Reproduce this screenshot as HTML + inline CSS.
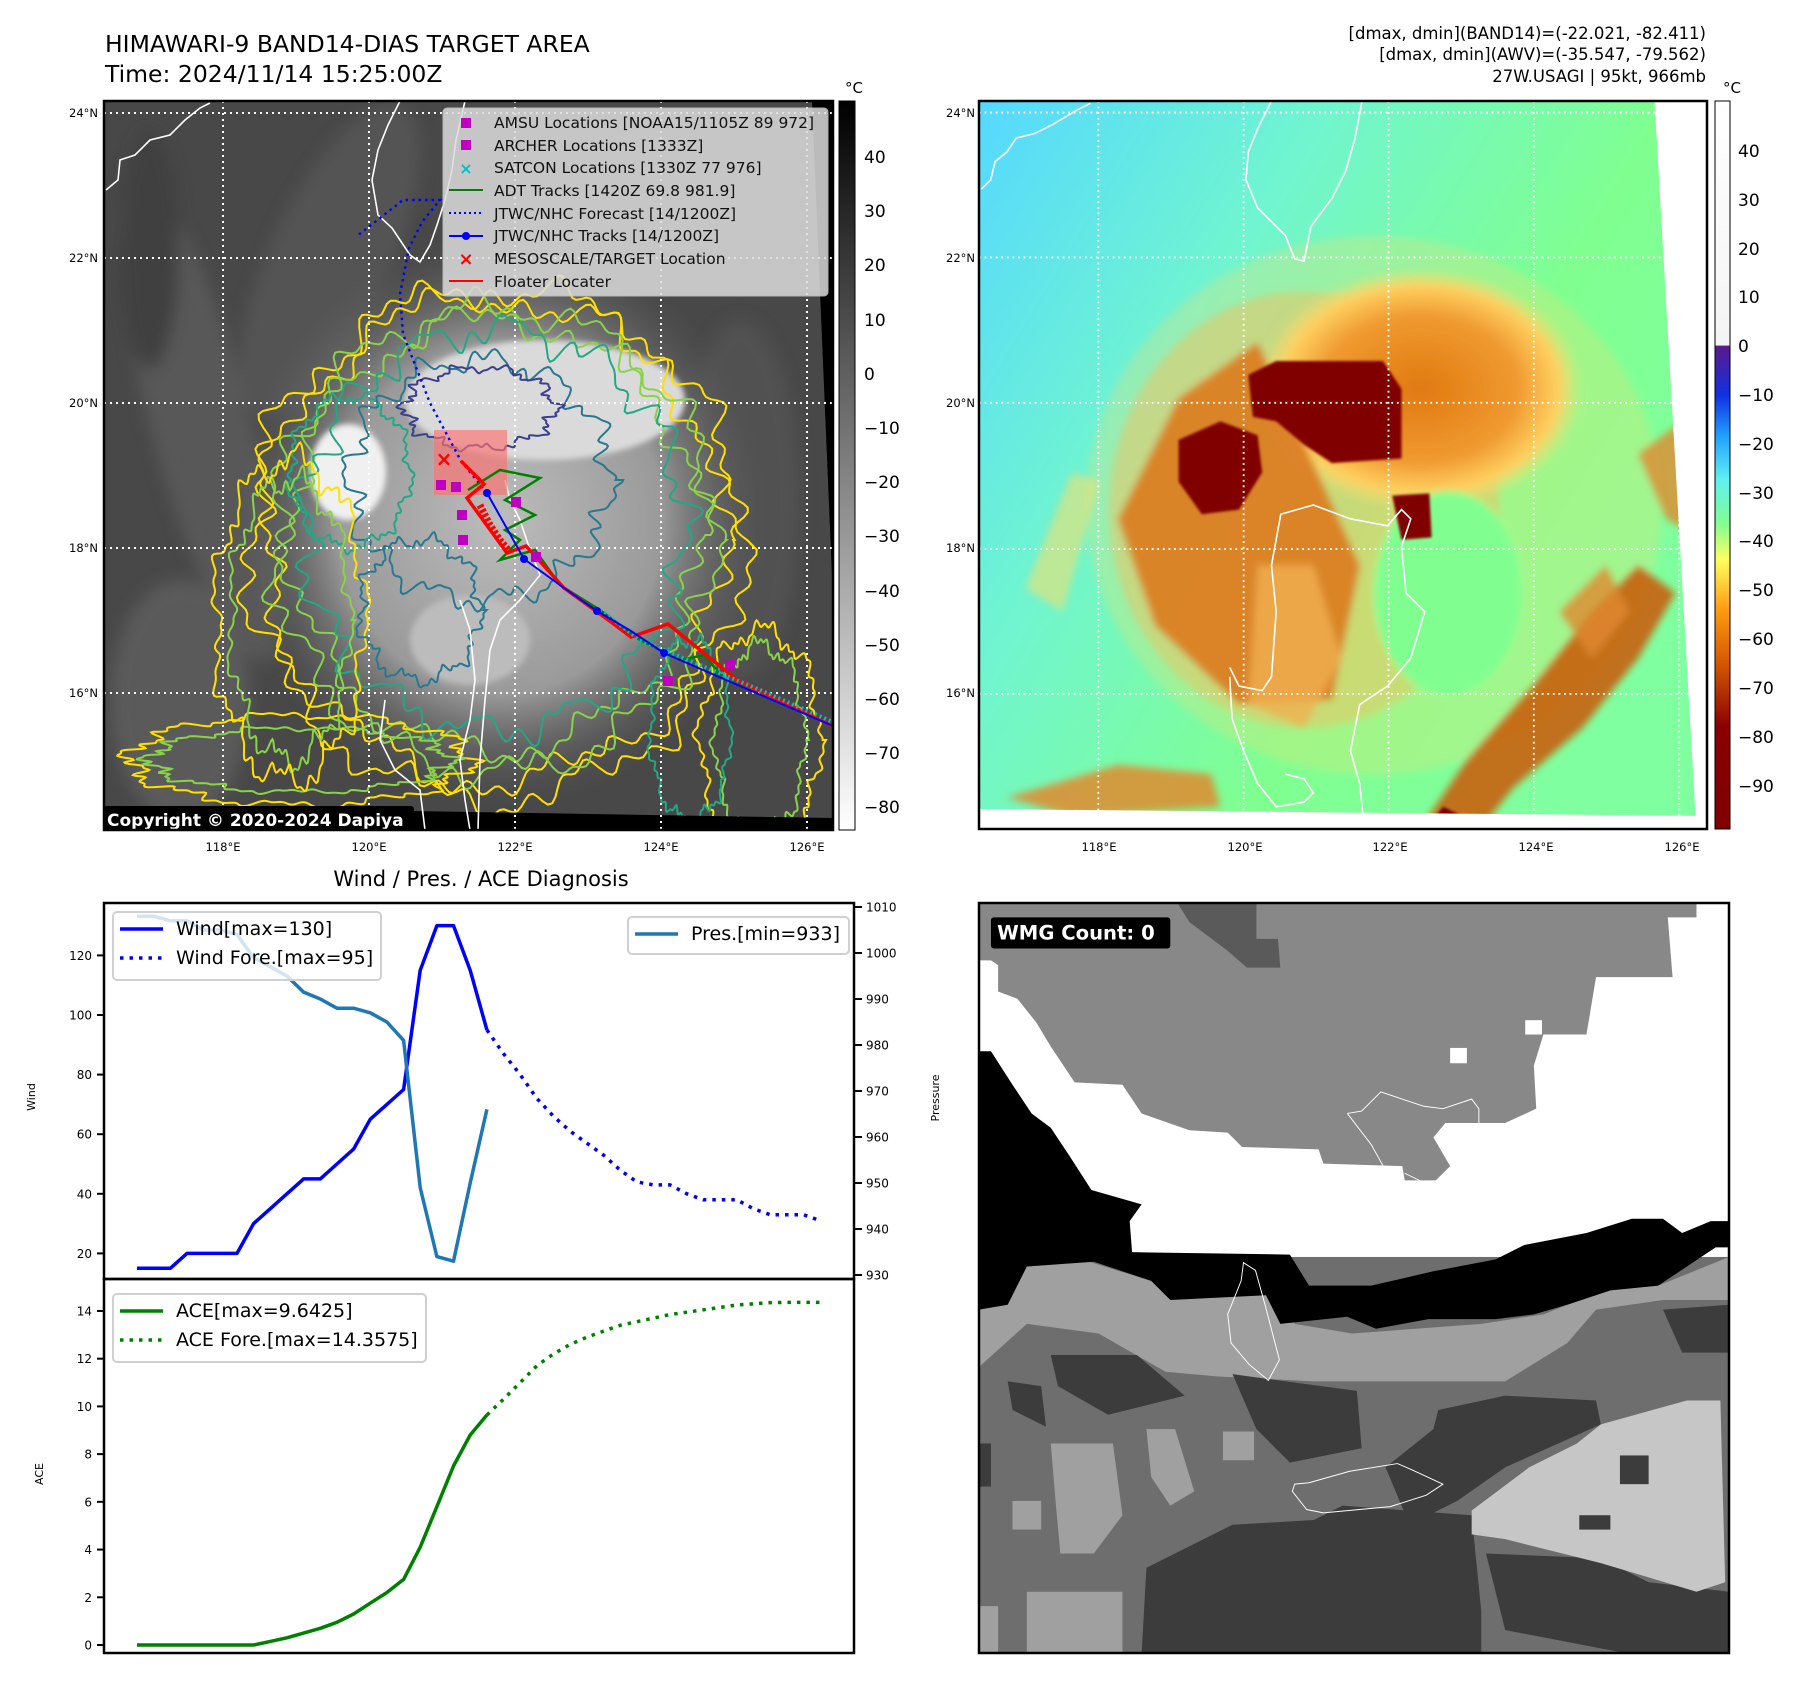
<!DOCTYPE html>
<html><head><meta charset="utf-8"><style>
html,body{margin:0;padding:0;background:#fff}
svg{display:block}
text{font-family:"DejaVu Sans","Liberation Sans",sans-serif}
</style></head><body>
<svg id="root" width="1797" height="1690" viewBox="0 0 1797 1690" xmlns="http://www.w3.org/2000/svg">
<defs>
 <linearGradient id="cb1" x1="0" y1="0" x2="0" y2="1"><stop offset="0" stop-color="#000"/><stop offset="1" stop-color="#fff"/></linearGradient>
 <linearGradient id="cb2" x1="0" y1="0" x2="0" y2="1">
  <stop offset="0" stop-color="#ffffff"/><stop offset="0.335" stop-color="#f4f4f4"/>
  <stop offset="0.337" stop-color="#5a1a8c"/><stop offset="0.404" stop-color="#1030e0"/>
  <stop offset="0.46" stop-color="#20a0ff"/><stop offset="0.52" stop-color="#60f0f0"/>
  <stop offset="0.58" stop-color="#80ff90"/><stop offset="0.63" stop-color="#ffff60"/>
  <stop offset="0.70" stop-color="#ff9a10"/><stop offset="0.78" stop-color="#d05000"/>
  <stop offset="0.86" stop-color="#8b0000"/><stop offset="1" stop-color="#800000"/>
 </linearGradient>
 <radialGradient id="cloud1" cx="0.5" cy="0.5" r="0.5"><stop offset="0" stop-color="#bcbcbc"/><stop offset="0.6" stop-color="#9a9a9a"/><stop offset="1" stop-color="#555" stop-opacity="0"/></radialGradient>
 <linearGradient id="bg2" x1="0" y1="0" x2="1" y2="0.6"><stop offset="0" stop-color="#55d8ff"/><stop offset="0.35" stop-color="#70f5d0"/><stop offset="0.7" stop-color="#80ff90"/><stop offset="1" stop-color="#80ffa0"/></linearGradient>
 <radialGradient id="storm" cx="0.5" cy="0.5" r="0.5"><stop offset="0" stop-color="#e07a10"/><stop offset="0.6" stop-color="#f09a30"/><stop offset="0.85" stop-color="#ffd060"/><stop offset="1" stop-color="#ffe070" stop-opacity="0"/></radialGradient>
 <filter id="bl" x="-20%" y="-20%" width="140%" height="140%"><feGaussianBlur stdDeviation="8"/></filter>
 <filter id="bl2" x="-20%" y="-20%" width="140%" height="140%"><feGaussianBlur stdDeviation="3"/></filter>
 <clipPath id="c1"><rect x="104" y="101" width="729" height="729"/></clipPath>
</defs>

<text x="105" y="52" font-size="23.5">HIMAWARI-9 BAND14-DIAS TARGET AREA</text>
<text x="105" y="82" font-size="23.5">Time: 2024/11/14 15:25:00Z</text>
<g font-size="16.5" text-anchor="end">
 <text x="1706" y="39">[dmax, dmin](BAND14)=(-22.021, -82.411)</text>
 <text x="1706" y="60">[dmax, dmin](AWV)=(-35.547, -79.562)</text>
 <text x="1706" y="82">27W.USAGI | 95kt, 966mb</text>
</g>

<!-- MAP 1 -->
<g clip-path="url(#c1)">
 <rect x="104" y="101" width="729" height="729" fill="#484848"/>
 <g opacity="0.55" filter="url(#bl)">
  <ellipse cx="200" cy="420" rx="50" ry="250" fill="#666" transform="rotate(-15 200 420)"/>
  <ellipse cx="330" cy="260" rx="60" ry="170" fill="#5e5e5e" transform="rotate(25 330 260)"/>
  <ellipse cx="180" cy="700" rx="70" ry="120" fill="#6a6a6a"/>
  <ellipse cx="740" cy="500" rx="60" ry="180" fill="#5a5a5a"/>
  <ellipse cx="150" cy="250" rx="30" ry="120" fill="#3a3a3a"/>
 </g>
 <ellipse cx="500" cy="520" rx="270" ry="290" fill="url(#cloud1)"/>
 <g filter="url(#bl2)">
  <ellipse cx="545" cy="400" rx="140" ry="60" fill="#dadada"/>
  <ellipse cx="348" cy="472" rx="38" ry="48" fill="#f0f0f0"/>
  <ellipse cx="470" cy="640" rx="60" ry="45" fill="#bcbcbc"/>
 </g>
 <g id="contours1" fill="none" stroke-width="2"></g>
 <polygon points="812,101 833,101 833,600" fill="#000"/>
 <polygon points="104,806 833,818 833,830 104,830" fill="#000"/>
 <g stroke="#fff" stroke-width="2" stroke-dasharray="2 4">
  <line x1="223" y1="101" x2="223" y2="830"/><line x1="369" y1="101" x2="369" y2="830"/><line x1="515" y1="101" x2="515" y2="830"/><line x1="661" y1="101" x2="661" y2="830"/><line x1="807" y1="101" x2="807" y2="830"/>
  <line x1="104" y1="113" x2="833" y2="113"/><line x1="104" y1="258" x2="833" y2="258"/><line x1="104" y1="403" x2="833" y2="403"/><line x1="104" y1="548" x2="833" y2="548"/><line x1="104" y1="693" x2="833" y2="693"/>
 </g>
 <g fill="none" stroke="#fff" stroke-width="1.6">
  <path d="M106,190 L118,180 L120,160 L135,155 L150,140 L170,135 L185,120 L200,108 L210,103"/>
  <path d="M400,101 L388,125 L378,150 L372,180 L378,215 L392,228 L410,255 L420,262 L430,245 L437,225 L445,200 L452,170 L456,140 L465,101"/>
  <path d="M505,480 L510,500 L520,520 L530,550 L540,575 L520,600 L500,620 L490,650 L485,700 L480,760 L478,830"/>
  <path d="M460,600 L470,630 L475,680 L470,720 L460,760 L465,800 L470,830"/>
  <path d="M385,700 L380,740 L395,770 L420,790 L425,830"/>
 </g>
 <rect x="434" y="430" width="73" height="65" fill="#ff7070" opacity="0.65"/>
 <polyline points="487,493 461,461 430,403 403,334 400,294 409,248 422,222 440,200 403,200 357,236" fill="none" stroke="#0000ff" stroke-width="2.4" stroke-dasharray="2.5 4"/>
 <polyline points="468,490 500,470 540,478 505,500 535,515 505,530 520,540 500,560 535,550 560,585 600,610 640,640 680,660 705,655 720,675" fill="none" stroke="#008000" stroke-width="2.5"/>
 <polyline points="461,461 484,484 467,498 507,553 526,546 564,588 611,622 631,637 668,624 737,680 833,726" fill="none" stroke="#ff0000" stroke-width="3.5"/>
 <polyline points="480,505 490,525 500,540 510,552" fill="none" stroke="#ff0000" stroke-width="7" stroke-dasharray="3 2" />
 <polyline points="600,610 640,640 700,665 760,690 833,722" fill="none" stroke="#00c0c0" stroke-width="4" stroke-dasharray="2 3"/>
 <polyline points="487,493 524,559 564,588 597,611 631,631 664,653 726,680 833,726" fill="none" stroke="#0000ff" stroke-width="2"/>
 <g fill="#0000ff"><circle cx="487" cy="493" r="4"/><circle cx="524" cy="559" r="4"/><circle cx="597" cy="611" r="4"/><circle cx="664" cy="653" r="4"/></g>
 <g fill="#c000c0">
  <rect x="436" y="480" width="10" height="10"/><rect x="451" y="482" width="10" height="10"/><rect x="457" y="510" width="10" height="10"/><rect x="458" y="535" width="10" height="10"/><rect x="511" y="497" width="10" height="10"/><rect x="531" y="552" width="10" height="10"/><rect x="663" y="676" width="10" height="10"/><rect x="725" y="660" width="10" height="10"/>
 </g>
 <text x="444" y="466" font-size="20" fill="#ff0000" text-anchor="middle" font-weight="bold">×</text>
 <g>
  <rect x="443" y="108" width="385" height="188" rx="4" fill="#dcdcdc" opacity="0.85" stroke="#ccc"/>
  <rect x="461" y="118" width="10" height="10" fill="#c000c0"/>
  <rect x="461" y="140" width="10" height="10" fill="#c000c0"/>
  <text x="466" y="174" font-size="16" fill="#00c0c0" text-anchor="middle" font-weight="bold">×</text>
  <line x1="449" y1="190" x2="483" y2="190" stroke="#008000" stroke-width="2"/>
  <line x1="449" y1="213" x2="483" y2="213" stroke="#0000ff" stroke-width="2" stroke-dasharray="2 3"/>
  <line x1="449" y1="236" x2="483" y2="236" stroke="#0000ff" stroke-width="2"/><circle cx="466" cy="236" r="4" fill="#0000ff"/>
  <text x="466" y="265" font-size="18" fill="#ff0000" text-anchor="middle" font-weight="bold">×</text>
  <line x1="449" y1="281" x2="483" y2="281" stroke="#ff0000" stroke-width="2"/>
  <g font-size="15.5" fill="#111">
   <text x="494" y="128">AMSU Locations [NOAA15/1105Z 89 972]</text>
   <text x="494" y="151">ARCHER Locations [1333Z]</text>
   <text x="494" y="173">SATCON Locations [1330Z 77 976]</text>
   <text x="494" y="196">ADT Tracks [1420Z 69.8 981.9]</text>
   <text x="494" y="219">JTWC/NHC Forecast [14/1200Z]</text>
   <text x="494" y="241">JTWC/NHC Tracks [14/1200Z]</text>
   <text x="494" y="264">MESOSCALE/TARGET Location</text>
   <text x="494" y="287">Floater Locater</text>
  </g>
 </g>
 <rect x="102" y="806" width="312" height="26" rx="3" fill="#000"/>
 <text x="107" y="826" font-size="17" font-weight="bold" fill="#fff">Copyright © 2020-2024 Dapiya</text>
</g>
<rect x="104" y="101" width="729" height="729" fill="none" stroke="#000" stroke-width="2.5"/>
<g font-size="11.5" text-anchor="end">
 <text x="98" y="117">24°N</text><text x="98" y="262">22°N</text><text x="98" y="407">20°N</text><text x="98" y="552">18°N</text><text x="98" y="697">16°N</text>
</g>
<g font-size="11.5" text-anchor="middle">
 <text x="223" y="851">118°E</text><text x="369" y="851">120°E</text><text x="515" y="851">122°E</text><text x="661" y="851">124°E</text><text x="807" y="851">126°E</text>
</g>
<rect x="839" y="101" width="16" height="729" fill="url(#cb1)" stroke="#000" stroke-width="1"/>
<text x="845" y="93" font-size="15">°C</text>
<g font-size="17">
 <text x="864" y="163">40</text><text x="864" y="217">30</text><text x="864" y="271">20</text><text x="864" y="326">10</text><text x="864" y="380">0</text>
 <text x="864" y="434">−10</text><text x="864" y="488">−20</text><text x="864" y="542">−30</text><text x="864" y="597">−40</text><text x="864" y="651">−50</text><text x="864" y="705">−60</text><text x="864" y="759">−70</text><text x="864" y="813">−80</text>
</g>

<!-- MAP 2 -->
<svg x="979" y="101" width="728" height="728" viewBox="0 0 1568 1568" preserveAspectRatio="none">
 <rect width="1568" height="1568" fill="url(#bg2)"/>
 <g filter="url(#bl)">
  <ellipse cx="850" cy="870" rx="620" ry="580" fill="#f0e070" opacity="0.3"/>
  <ellipse cx="700" cy="880" rx="420" ry="470" fill="#f0c060" opacity="0.5"/>
  <ellipse cx="950" cy="620" rx="350" ry="260" fill="url(#storm)"/>
  <polygon points="300,900 430,640 600,520 720,780 820,1000 760,1290 560,1300 380,1130" fill="#dd7a20" opacity="0.9"/>
  <polygon points="600,1000 720,1000 780,1200 700,1350 580,1300" fill="#f0b050" opacity="0.8"/>
  <ellipse cx="1010" cy="1060" rx="160" ry="220" fill="#80ff90"/>
  <polygon points="950,1568 1050,1420 1200,1250 1320,1100 1420,1000 1500,1060 1420,1200 1300,1350 1150,1480 1080,1568" fill="#c86010" opacity="0.9"/>
  <polygon points="1250,1100 1350,1000 1400,1100 1320,1200" fill="#e08a30" opacity="0.8"/>
  <polygon points="1420,760 1500,700 1568,720 1568,950 1480,900" fill="#e08a30" opacity="0.8"/>
  <polygon points="60,1500 300,1430 500,1450 520,1520 200,1540" fill="#e08a30" opacity="0.85"/>
  <polygon points="100,1050 200,800 260,820 180,1100" fill="#f0e070" opacity="0.6"/>
 </g>
 <g fill="#800000" filter="url(#bl2)">
  <polygon points="580,590 640,560 870,560 910,620 910,770 760,780 700,740 640,690 590,680"/>
  <polygon points="430,730 520,690 600,720 610,800 560,880 480,890 430,820"/>
  <polygon points="890,850 970,845 975,940 910,945"/>
  <polygon points="960,1568 1000,1520 1040,1540 1020,1568" />
 </g>
 <polygon points="1455,0 1568,0 1568,1568 1545,1568" fill="#fff"/>
 <polygon points="0,1525 1568,1540 1568,1568 0,1568" fill="#fff"/>
 <g stroke="#fff" stroke-width="4" stroke-dasharray="4 8">
  <line x1="257" y1="0" x2="257" y2="1568"/><line x1="570" y1="0" x2="570" y2="1568"/><line x1="882" y1="0" x2="882" y2="1568"/><line x1="1195" y1="0" x2="1195" y2="1568"/><line x1="1508" y1="0" x2="1508" y2="1568"/>
  <line x1="0" y1="25" x2="1568" y2="25"/><line x1="0" y1="337" x2="1568" y2="337"/><line x1="0" y1="650" x2="1568" y2="650"/><line x1="0" y1="965" x2="1568" y2="965"/><line x1="0" y1="1277" x2="1568" y2="1277"/>
 </g>
 <g fill="none" stroke="#fff" stroke-width="3.5">
  <path d="M5,190 L25,170 L35,130 L60,110 L80,80 L120,70 L160,50 L210,20 L240,5"/>
  <path d="M630,0 L600,60 L580,110 L575,170 L600,230 L630,260 L660,290 L680,340 L700,345 L715,270 L760,210 L790,150 L810,80 L825,0"/>
  <path d="M540,1220 L560,1260 L610,1270 L630,1240 L640,1100 L630,1000 L650,890 L720,870 L800,900 L880,915 L910,880 L930,900 L910,960 L920,1060 L960,1100 L930,1200 L880,1260 L820,1300 L800,1400 L820,1470 L830,1568"/>
  <path d="M540,1240 L545,1330 L570,1400 L600,1470 L640,1520 L700,1510 L720,1490 L700,1460 L660,1450"/>
 </g>
</svg>
<rect x="979" y="101" width="728" height="728" fill="none" stroke="#000" stroke-width="2.5"/>
<g font-size="11.5" text-anchor="end">
 <text x="975" y="117">24°N</text><text x="975" y="262">22°N</text><text x="975" y="407">20°N</text><text x="975" y="552">18°N</text><text x="975" y="697">16°N</text>
</g>
<g font-size="11.5" text-anchor="middle">
 <text x="1099" y="851">118°E</text><text x="1245" y="851">120°E</text><text x="1390" y="851">122°E</text><text x="1536" y="851">124°E</text><text x="1682" y="851">126°E</text>
</g>
<rect x="1715" y="101" width="15" height="728" fill="url(#cb2)" stroke="#000" stroke-width="1"/>
<text x="1723" y="93" font-size="15">°C</text>
<g font-size="17">
 <text x="1738" y="157">40</text><text x="1738" y="206">30</text><text x="1738" y="255">20</text><text x="1738" y="303">10</text><text x="1738" y="352">0</text>
 <text x="1738" y="401">−10</text><text x="1738" y="450">−20</text><text x="1738" y="499">−30</text><text x="1738" y="547">−40</text><text x="1738" y="596">−50</text><text x="1738" y="645">−60</text><text x="1738" y="694">−70</text><text x="1738" y="743">−80</text><text x="1738" y="792">−90</text>
</g>

<!-- WMG panel -->
<svg x="979" y="903" width="750" height="750" viewBox="0 0 1568 1568" preserveAspectRatio="none">
 <rect width="1568" height="1568" fill="#fff"/>
 <rect x="0" y="740" width="1568" height="828" fill="#6e6e6e"/>
 <polygon points="0,0 1500,0 1500,30 1440,30 1450,155 1290,155 1270,275 1180,275 1160,340 1165,430 1100,460 975,460 950,490 985,550 955,580 890,580 885,550 720,545 710,515 550,510 520,480 440,475 340,440 300,380 200,375 150,300 120,250 80,200 40,185 40,130 25,120 0,120" fill="#888"/>
 <polygon points="415,0 580,0 580,75 625,75 630,135 560,135 520,100 440,40" fill="#5a5a5a"/>
 <rect x="985" y="303" width="35" height="32" fill="#fff"/><rect x="1142" y="245" width="35" height="30" fill="#fff"/>
 <polygon points="0,850 100,760 230,750 360,790 620,800 660,880 780,900 1050,880 1180,860 1230,840 1320,810 1420,800 1568,740 1568,830 1430,830 1290,850 1230,920 1100,1000 950,1000 700,1000 500,990 390,980 250,900 100,880 0,970" fill="#a0a0a0"/>
 <polygon points="0,310 25,310 70,380 110,440 150,470 190,530 235,600 340,630 315,665 320,730 650,735 690,800 820,800 950,770 1080,745 1140,715 1270,690 1365,660 1430,660 1470,690 1530,665 1568,665 1568,720 1540,720 1420,800 1320,810 1230,840 1160,860 1080,870 940,870 830,890 770,865 630,880 600,820 400,830 360,790 240,750 100,760 60,840 0,850" fill="#000"/>
 <g fill="#3c3c3c">
  <polygon points="530,985 790,1020 800,1140 650,1170 580,1100"/>
  <polygon points="150,945 330,945 430,1030 270,1070 165,1010"/>
  <polygon points="60,1000 130,1010 140,1095 70,1060"/>
  <polygon points="960,1060 1100,1030 1290,1040 1300,1090 1100,1180 1000,1250 900,1300 850,1180 950,1100"/>
  <polygon points="350,1390 530,1300 700,1290 760,1260 1030,1280 1050,1480 1050,1568 340,1568"/>
  <polygon points="1060,1360 1300,1370 1400,1420 1568,1440 1568,1568 1350,1568 1100,1520"/>
  <polygon points="1430,850 1568,840 1568,940 1470,940"/>
  <rect x="0" y="1130" width="25" height="90"/>
 </g>
 <polygon points="1030,1270 1150,1180 1250,1130 1300,1090 1480,1040 1550,1040 1560,1420 1500,1440 1300,1380 1100,1330 1030,1320" fill="#c6c6c6"/>
 <g fill="#3c3c3c"><rect x="1340" y="1155" width="60" height="60"/><rect x="1255" y="1280" width="65" height="30"/></g>
 <g fill="#a0a0a0">
  <polygon points="150,1130 280,1130 300,1280 240,1360 170,1360 160,1250"/>
  <polygon points="350,1100 410,1100 450,1230 400,1260 360,1200"/>
  <rect x="510" y="1105" width="65" height="60"/>
  <rect x="100" y="1440" width="200" height="128"/>
  <rect x="0" y="1470" width="40" height="98"/>
  <rect x="70" y="1250" width="60" height="60"/>
 </g>
 <g fill="none" stroke="#fff" stroke-width="2">
  <path d="M770,440 L800,435 L840,395 L930,425 L970,430 L1030,410 L1045,430 L1045,460 M770,440 L820,505 L845,550 M890,565 L925,582"/>
  <path d="M553,752 L578,768 L598,840 L628,955 L605,998 L565,965 L527,920 L520,860 L548,790 Z"/>
  <path d="M660,1215 L690,1212 L775,1188 L875,1172 L905,1185 L970,1215 L935,1238 L860,1262 L720,1275 L685,1268 L655,1230 Z"/>
 </g>
 <rect x="25" y="30" width="375" height="65" rx="6" fill="#000"/>
 <text x="38" y="76" font-size="41" font-weight="bold" fill="#fff">WMG Count: 0</text>
</svg>
<rect x="979" y="903" width="750" height="750" fill="none" stroke="#000" stroke-width="2.5"/>
<text x="939" y="1098" font-size="11" text-anchor="middle" transform="rotate(-90 939 1098)">Pressure</text>

<text x="481" y="886" font-size="21" text-anchor="middle">Wind / Pres. / ACE Diagnosis</text>
<g id="chart"></g>
</svg>

<script>
const windObs = [15,15,15,20,20,20,20,30,35,40,45,45,50,55,65,70,75,115,130,130,115,95];
const windFore = [95,87,80,72,66,61,57,53,48,44,43,43,40,38,38,38,35,33,33,33,31];
const presObs = [1008,1008,1007,1007,1005,1005,1004,999,997,995,991.5,990,988,988,987,985,981,949,934,933,950,966];
const aceObs = [0,0,0,0,0,0,0,0,0.15,0.3,0.5,0.7,0.95,1.3,1.75,2.2,2.75,4.1,5.8,7.5,8.8,9.64];
const aceFore = [9.64,10.3,11.0,11.7,12.2,12.6,12.9,13.15,13.4,13.55,13.7,13.85,13.95,14.05,14.15,14.25,14.3,14.35,14.36,14.36,14.36];
const windTicks = [20,40,60,80,100,120];
const presTicks = [930,940,950,960,970,980,990,1000,1010];
const aceTicks = [0,2,4,6,8,10,12,14];
const foreStart = windObs.length - 1;

const NS = "http://www.w3.org/2000/svg";
const chart = document.getElementById('chart');
const L = 104, R = 854, T1 = 903, B1 = 1279, T2 = 1279, B2 = 1653;
const xOf = i => 137 + 16.66 * i;
const yWind = w => 1313 - 2.98 * w;
const yPres = p => 1275 - 4.6 * (p - 930);
const yAce = a => 1645 - 23.86 * a;

function mk(tag, attrs, parent) {
  const e = document.createElementNS(NS, tag);
  for (const k in attrs) e.setAttribute(k, attrs[k]);
  (parent || chart).appendChild(e);
  return e;
}
function poly(vals, off, yf, color, dash, name) {
  const pts = vals.map((v, i) => xOf(i + off).toFixed(1) + ',' + yf(v).toFixed(1)).join(' ');
  const e = mk('polyline', {points: pts, fill: 'none', stroke: color, 'stroke-width': 3.5, 'stroke-linejoin': 'round'});
  if (dash) e.setAttribute('stroke-dasharray', '3.5 6');
  
  
}
const f1 = mk('rect', {x: L, y: T1, width: R - L, height: B1 - T1, fill: 'none', stroke: '#000', 'stroke-width': 2.5});


const f2 = mk('rect', {x: L, y: T2, width: R - L, height: B2 - T2, fill: 'none', stroke: '#000', 'stroke-width': 2.5});



windTicks.forEach(t => {
  const y = yWind(t);
  mk('line', {x1: L - 7, x2: L, y1: y, y2: y, stroke: '#000', 'stroke-width': 2});
  const tx = mk('text', {x: L - 12, y: y + 4.5, 'font-size': 12, 'text-anchor': 'end'});
  tx.textContent = t;
  
  
});
presTicks.forEach(t => {
  const y = yPres(t);
  mk('line', {x1: R, x2: R + 8, y1: y, y2: y, stroke: '#000', 'stroke-width': 2});
  const tx = mk('text', {x: R + 12, y: y + 4.5, 'font-size': 12});
  tx.textContent = t;
  
  
});
aceTicks.forEach(t => {
  const y = yAce(t);
  mk('line', {x1: L - 7, x2: L, y1: y, y2: y, stroke: '#000', 'stroke-width': 2});
  const tx = mk('text', {x: L - 12, y: y + 4.5, 'font-size': 12, 'text-anchor': 'end'});
  tx.textContent = t;
  
  
});
const wl = mk('text', {x: 35, y: 1097, 'font-size': 11, 'text-anchor': 'middle', transform: 'rotate(-90 35 1097)'});
wl.textContent = 'Wind';


const al = mk('text', {x: 43, y: 1474, 'font-size': 11, 'text-anchor': 'middle', transform: 'rotate(-90 43 1474)'});
al.textContent = 'ACE';



poly(windObs, 0, yWind, '#0000ff', false, 'wind-line');
poly(windFore, foreStart, yWind, '#0000ff', true, 'wind-forecast-line');
poly(presObs, 0, yPres, '#1f77b4', false, 'pressure-line');
poly(aceObs, 0, yAce, '#008000', false, 'ace-line');
poly(aceFore, foreStart, yAce, '#008000', true, 'ace-forecast-line');

function legend(x, y, w, h, rows, name) {
  const g = mk('g', {});
  
  
  mk('rect', {x: x, y: y, width: w, height: h, rx: 4, fill: '#fff', 'fill-opacity': 0.8, stroke: '#d0d0d0', 'stroke-width': 2}, g);
  rows.forEach((r, k) => {
    const yy = y + 17 + k * 29;
    const ln = mk('line', {x1: x + 7, x2: x + 50, y1: yy, y2: yy, stroke: r[1], 'stroke-width': 3.5}, g);
    if (r[2]) ln.setAttribute('stroke-dasharray', '3.5 6');
    const t = mk('text', {x: x + 63, y: yy + 6, 'font-size': 19}, g);
    t.textContent = r[0];
  });
}
legend(113, 912, 268, 68, [['Wind[max=130]', '#0000ff', false], ['Wind Fore.[max=95]', '#0000ff', true]], 'wind-legend');
legend(628, 917, 221, 37, [['Pres.[min=933]', '#1f77b4', false]], 'pressure-legend');
legend(113, 1294, 313, 68, [['ACE[max=9.6425]', '#008000', false], ['ACE Fore.[max=14.3575]', '#008000', true]], 'ace-legend');

const cg = document.getElementById('contours1');
function wobble(cx, cy, rx, ry, amp, freq, ph) {
  let d = '';
  for (let k = 0; k <= 360; k++) {
    const a = k / 360 * Math.PI * 2;
    const r = 1 + amp * Math.sin(freq * a + ph) + amp * 0.5 * Math.sin(freq * 2.7 * a + ph * 2) + 0.025 * Math.sin(47 * a + ph * 3);
    d += (k ? 'L' : 'M') + (cx + rx * r * Math.cos(a)).toFixed(1) + ',' + (cy + ry * r * Math.sin(a)).toFixed(1);
  }
  return d + 'Z';
}
[[495, 545, 245, 255, '#ffe000', 0.05, 9, 0.3], [495, 540, 232, 242, '#ffe000', 0.05, 7, 2.3],
 [495, 540, 220, 232, '#8ad24a', 0.05, 11, 1.2], [495, 535, 205, 215, '#8ad24a', 0.05, 8, 2.7],
 [495, 530, 190, 200, '#22a884', 0.06, 13, 2.0], [480, 480, 130, 120, '#2a788e', 0.07, 12, 0.7],
 [480, 408, 75, 40, '#3b3f8c', 0.08, 10, 1.5], [350, 472, 60, 75, '#22a884', 0.06, 9, 0.2],
 [760, 740, 60, 110, '#ffe000', 0.07, 8, 0.9], [760, 740, 45, 95, '#8ad24a', 0.07, 8, 1.9],
 [300, 760, 170, 45, '#ffe000', 0.06, 10, 0.4], [300, 760, 150, 32, '#8ad24a', 0.06, 10, 1.4],
 [290, 620, 60, 140, '#8ad24a', 0.07, 9, 1.1], [290, 620, 75, 160, '#ffe000', 0.07, 9, 2.1],
 [690, 730, 40, 90, '#22a884', 0.06, 9, 0.3], [420, 610, 60, 70, '#2a788e', 0.08, 9, 0.9]
].forEach(c => {
  const p = document.createElementNS(NS, 'path');
  p.setAttribute('d', wobble(c[0], c[1], c[2], c[3], c[5], c[6], c[7]));
  p.setAttribute('stroke', c[4]);
  
  
  cg.appendChild(p);
});
</script>
</body></html>
